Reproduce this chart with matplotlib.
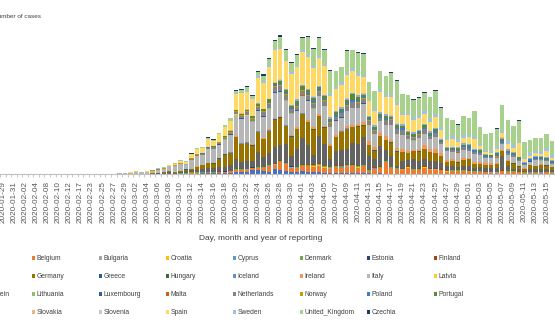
import matplotlib
matplotlib.use("Agg")
import matplotlib.pyplot as plt
from matplotlib.patches import Rectangle
import numpy as np
import pandas as pd

plt.rcParams['font.family'] = ['Liberation Sans', 'DejaVu Sans']

countries = ["Austria", "Belgium", "Bulgaria", "Croatia", "Cyprus", "Denmark", "Estonia", "Finland",
             "France", "Germany", "Greece", "Hungary", "Iceland", "Ireland", "Italy", "Latvia",
             "Liechtenstein", "Lithuania", "Luxembourg", "Malta", "Netherlands", "Norway", "Poland", "Portugal",
             "Romania", "Slovakia", "Slovenia", "Spain", "Sweden", "United_Kingdom", "Czechia"]
colors = ["#4472C4", "#ED7D31", "#A5A5A5", "#FFC000", "#5B9BD5", "#70AD47", "#264478", "#9E480E",
          "#636363", "#997300", "#255E91", "#43682B", "#698ED0", "#F1975A", "#B7B7B7", "#FFCD33",
          "#7CAFDD", "#8CC168", "#335AA1", "#D26012", "#848484", "#CC9A00", "#3C7DC4", "#5A8A39",
          "#8FAADC", "#F4B183", "#C9C9C9", "#FFD966", "#9DC3E6", "#A9D18E", "#203864"]

early_dates = ["2020-01-29", "2020-01-30", "2020-01-31", "2020-02-01", "2020-02-02", "2020-02-03",
               "2020-02-04", "2020-02-06", "2020-02-08", "2020-02-09", "2020-02-10", "2020-02-11",
               "2020-02-12", "2020-02-14", "2020-02-17", "2020-02-21"]
daily_dates = [d.strftime("%Y-%m-%d") for d in pd.date_range("2020-02-23", "2020-05-16")]
dates = early_dates + daily_dates

# cases on the early (sparse) reporting dates
early = {
    "France":         [1, 0, 1, 0, 0, 0, 0, 0, 5, 0, 0, 0, 0, 1, 0, 0],
    "Germany":        [1, 0, 1, 1, 2, 2, 2, 1, 0, 2, 2, 1, 0, 1, 0, 0],
    "Italy":          [0, 0, 2, 0, 0, 0, 0, 1, 0, 0, 0, 0, 0, 0, 0, 17],
    "United_Kingdom": [0, 0, 2, 0, 0, 0, 0, 1, 0, 4, 1, 0, 0, 0, 0, 0],
    "Finland":        [1, 0, 0, 0, 0, 0, 0, 0, 0, 0, 0, 0, 0, 0, 0, 0],
    "Sweden":         [0, 0, 0, 1, 0, 0, 0, 0, 0, 0, 0, 0, 0, 0, 0, 0],
    "Belgium":        [0, 0, 0, 0, 0, 0, 1, 0, 0, 0, 0, 0, 0, 0, 0, 0],
    "Spain":          [0, 0, 0, 1, 0, 0, 0, 0, 0, 1, 0, 0, 0, 0, 0, 0],
}

# daily cases 2020-02-23 .. 2020-05-16 (one row per week)
italy = [58, 76, 99, 93, 78, 250, 238,
         240, 561, 342, 466, 587, 769, 778,
         1247, 1492, 1797, 977, 2313, 2651, 2547,
         3497, 3590, 3233, 3526, 4207, 5400, 6000,
         6557, 5560, 4789, 5249, 5210, 6153, 5959,
         5974, 5217, 4050, 4053, 4782, 4668, 4585,
         4805, 4316, 3599, 3039, 3836, 4204, 3951,
         4694, 4092, 3153, 2972, 2667, 3786, 3493,
         3491, 3047, 2256, 2729, 2900, 2646, 3021,
         2357, 2324, 1739, 2091, 2086, 1872, 1965,
         1900, 1389, 1221, 1075, 1444, 1401, 1327,
         1083, 802, 744, 1402, 888, 992, 789]
spain = [0, 0, 2, 4, 8, 17, 13,
         39, 36, 45, 57, 37, 141, 100,
         173, 400, 622, 582, 869, 1200, 1159,
         2000, 1200, 1806, 2162, 2200, 4000, 4964,
         4400, 4200, 6368, 6500, 8000, 7933, 7516,
         6875, 7846, 7967, 8195, 7947, 7134, 6969,
         7200, 5300, 5478, 5600, 5756, 5500, 4830,
         4167, 3700, 3477, 5092, 4200, 4500, 4499,
         2200, 3968, 3200, 3000, 2500, 2300, 2796,
         2300, 1831, 2144, 1308, 1209, 1781, 2500,
         838, 545, 356, 685, 1122, 1410, 1095,
         3300, 621, 426, 594, 439, 1506, 643]
germany = [0, 0, 0, 0, 10, 26, 10,
           57, 28, 31, 45, 106, 143, 129,
           241, 136, 281, 451, 170, 700, 910,
           1210, 1100, 1985, 3070, 2993, 5500, 4500,
           4600, 3800, 4800, 4337, 5500, 6933, 6824,
           4400, 4790, 4923, 6064, 5600, 6365, 4933,
           4031, 3251, 3500, 4500, 4885, 3990, 4133,
           2821, 2537, 2082, 2486, 2500, 3380, 3609,
           2100, 1775, 1785, 2237, 2352, 2337, 2055,
           1737, 1018, 1144, 1000, 1478, 1639, 945,
           793, 679, 685, 947, 1284, 1209, 1251,
           667, 357, 933, 798, 933, 913, 620]
france = [0, 0, 0, 2, 1, 20, 19,
          43, 30, 61, 13, 81, 92, 276,
          296, 177, 286, 372, 497, 595, 785,
          838, 924, 1210, 1097, 1404, 2400, 1617,
          1847, 1559, 3838, 2446, 2931, 3922, 3809,
          4611, 2599, 4376, 6500, 4861, 2116, 6800,
          5500, 1873, 3500, 3777, 3881, 5200, 5500,
          6900, 3500, 2000, 5000, 2633, 2641, 405,
          1909, 1489, 2489, 1900, 1827, 1653, 1773,
          1537, 1063, 1063, 800, 1000, 1139, 800,
          1010, 1000, 1000, 1000, 3600, 1300, 600,
          550, 400, 700, 650, 700, 600, 550]
united_kingdom = [0, 0, 4, 0, 3, 7, 3,
                  12, 13, 4, 11, 34, 30, 48,
                  43, 67, 48, 61, 83, 134, 117,
                  150, 251, 152, 407, 676, 643, 714,
                  1035, 665, 967, 1427, 1452, 2129, 2885,
                  2546, 2433, 2619, 3009, 4324, 4244, 4450,
                  3735, 5903, 3802, 3634, 5491, 4344, 5195,
                  5288, 4342, 4400, 4603, 4617, 5599, 5525,
                  4800, 4676, 4301, 4451, 4583, 5386, 5900,
                  5200, 5200, 3996, 3700, 4700, 4400, 6500,
                  4339, 4200, 4406, 4600, 6400, 5300, 4900,
                  5400, 3877, 3403, 3242, 3446, 3560, 3451]
belgium = [0, 0, 0, 0, 0, 0, 0,
           0, 1, 6, 7, 10, 27, 59,
           60, 39, 28, 47, 85, 160, 130,
           197, 172, 185, 243, 309, 462, 558,
           586, 342, 526, 668, 1298, 1049, 1850,
           1702, 1063, 876, 1189, 1384, 1422, 1661,
           1260, 1123, 1380, 1209, 1580, 1684, 1351,
           1629, 530, 1200, 1300, 2800, 1329, 1054,
           1045, 1487, 933, 973, 1496, 1032, 1032,
           879, 553, 647, 701, 684, 585, 500,
           455, 361, 310, 323, 639, 482, 500,
           450, 270, 300, 250, 300, 400, 300]
netherlands = [0, 0, 0, 0, 1, 1, 5,
               8, 8, 6, 14, 44, 46, 60,
               77, 56, 57, 121, 111, 190, 155,
               176, 278, 292, 346, 409, 534, 637,
               573, 545, 811, 852, 1019, 1172, 1159,
               1104, 884, 845, 1019, 1083, 1026, 904,
               1224, 952, 777, 969, 1213, 1335, 1316,
               1174, 964, 868, 734, 1061, 1235, 1140,
               1066, 750, 729, 797, 1066, 655, 887,
               400, 171, 400, 386, 514, 475, 445,
               335, 199, 232, 387, 233, 319, 455,
               250, 199, 196, 188, 258, 200, 251]
austria = [0, 0, 2, 0, 1, 0, 0,
           0, 4, 8, 7, 12, 14, 20,
           25, 27, 51, 64, 121, 115, 150,
           204, 160, 314, 286, 350, 452, 455,
           500, 1100, 892, 800, 600, 1300, 1100,
           800, 560, 510, 700, 550, 418, 400,
           300, 250, 300, 330, 280, 250, 240,
           250, 150, 100, 150, 100, 80, 90,
           80, 80, 50, 80, 70, 80, 60,
           60, 40, 50, 60, 40, 40, 40,
           30, 30, 30, 40, 50, 40, 30,
           30, 20, 30, 40, 30, 20, 20]
portugal = [0, 0, 0, 0, 0, 0, 0,
            0, 2, 2, 2, 5, 4, 8,
            9, 9, 11, 18, 19, 32, 56,
            94, 53, 86, 117, 194, 143, 235,
            260, 320, 460, 302, 633, 549, 724,
            792, 446, 1035, 808, 783, 852, 638,
            754, 452, 712, 699, 815, 1516, 1033,
            598, 349, 514, 643, 750, 181, 663,
            521, 516, 629, 371, 603, 444, 595,
            163, 92, 183, 295, 345, 553, 181,
            394, 242, 178, 533, 553, 333, 158,
            340, 200, 160, 230, 300, 150, 200]
sweden = [0, 0, 0, 1, 1, 5, 0,
          5, 7, 7, 20, 30, 48, 76,
          67, 45, 107, 145, 162, 155, 136,
          131, 83, 112, 102, 146, 168, 200,
          154, 144, 294, 337, 393, 281, 322,
          250, 328, 384, 509, 554, 425, 415,
          396, 400, 500, 700, 600, 700, 500,
          466, 332, 465, 482, 610, 606, 676,
          563, 400, 700, 600, 700, 800, 600,
          400, 300, 600, 700, 800, 450, 400,
          300, 300, 600, 500, 600, 600, 600,
          300, 400, 700, 600, 600, 800, 600]
ireland = [0, 0, 0, 0, 0, 0, 1,
           0, 0, 0, 1, 2, 1, 7,
           3, 2, 3, 19, 9, 27, 20,
           40, 40, 74, 77, 191, 126, 102,
           121, 219, 204, 235, 255, 302, 294,
           200, 295, 325, 214, 402, 424, 331,
           390, 370, 365, 345, 500, 480, 560,
           727, 992, 832, 657, 1068, 548, 709,
           778, 493, 388, 631, 936, 577, 1000,
           700, 500, 400, 350, 400, 200, 376,
           330, 331, 392, 300, 200, 150, 200,
           200, 200, 159, 100, 300, 100, 100]
poland = [0, 0, 0, 0, 0, 0, 0,
          0, 0, 0, 1, 0, 4, 1,
          5, 6, 6, 9, 18, 25, 36,
          21, 52, 27, 81, 51, 70, 98,
          115, 152, 115, 152, 170, 168, 249,
          224, 193, 256, 243, 392, 437, 475,
          311, 416, 325, 369, 370, 380, 318,
          268, 401, 380, 336, 300, 360, 363,
          545, 263, 313, 380, 376, 270, 355,
          240, 300, 300, 260, 280, 300, 400,
          330, 300, 307, 356, 500, 300, 340,
          340, 200, 300, 400, 300, 380, 200]
romania = [0, 0, 0, 1, 0, 0, 0,
           0, 0, 0, 3, 0, 1, 2,
           2, 2, 8, 10, 15, 18, 20,
           32, 40, 26, 60, 101, 46, 53,
           75, 125, 195, 138, 94, 123, 263,
           271, 192, 308, 360, 262, 302, 190,
           210, 401, 349, 261, 405, 314, 411,
           312, 327, 394, 420, 332, 421, 302,
           337, 317, 270, 300, 335, 329, 300,
           220, 300, 200, 230, 350, 200, 300,
           250, 150, 200, 250, 270, 300, 250,
           200, 190, 200, 185, 220, 170, 180]
czechia = [0, 0, 0, 0, 0, 0, 0,
           0, 3, 0, 2, 2, 4, 7,
           7, 9, 7, 22, 38, 40, 38,
           79, 136, 82, 135, 86, 162, 133,
           205, 236, 304, 343, 400, 260, 360,
           300, 265, 252, 290, 349, 329, 250,
           190, 171, 239, 146, 214, 217, 181,
           123, 97, 145, 133, 99, 154, 121,
           88, 32, 77, 114, 112, 116, 71,
           58, 32, 44, 64, 56, 55, 65,
           30, 54, 71, 70, 60, 80, 50,
           35, 40, 50, 50, 50, 60, 30]
norway = [0, 0, 0, 1, 0, 0, 6,
          4, 4, 13, 12, 25, 30, 38,
          56, 134, 110, 62, 224, 121, 110,
          120, 137, 200, 227, 215, 160, 127,
          267, 155, 186, 246, 244, 318, 358,
          295, 231, 200, 214, 292, 213, 170,
          146, 111, 150, 150, 200, 112, 76,
          98, 82, 117, 75, 120, 47, 89,
          90, 67, 51, 72, 72, 68, 44,
          30, 34, 61, 78, 41, 33, 65,
          25, 34, 14, 44, 38, 26, 20,
          12, 14, 16, 20, 13, 12, 10]
denmark = [0, 0, 0, 0, 1, 0, 0,
           0, 0, 0, 4, 6, 6, 12,
           8, 30, 50, 150, 257, 156, 123,
           127, 73, 28, 34, 32, 141, 45,
           25, 81, 126, 136, 132, 108, 207,
           203, 130, 200, 220, 241, 371, 300,
           228, 192, 223, 280, 300, 233, 207,
           221, 166, 178, 144, 184, 165, 231,
           140, 150, 212, 175, 220, 150, 130,
           110, 100, 170, 130, 150, 120, 140,
           160, 70, 100, 120, 130, 100, 100,
           70, 60, 100, 110, 80, 70, 70]
luxembourg = [0, 0, 0, 0, 0, 0, 1,
              0, 0, 0, 0, 0, 1, 1,
              1, 0, 2, 2, 7, 12, 7,
              20, 30, 60, 40, 70, 90, 140,
              130, 120, 170, 180, 140, 200, 160,
              120, 100, 140, 120, 80, 90, 60,
              60, 50, 90, 80, 60, 50, 40,
              40, 25, 30, 20, 30, 30, 35,
              20, 10, 10, 10, 10, 10, 10,
              8, 5, 10, 6, 8, 5, 7,
              6, 5, 4, 8, 5, 7, 5,
              4, 3, 5, 6, 3, 4, 5]
finland = [0, 0, 1, 0, 0, 1, 0,
           0, 0, 1, 0, 1, 2, 4,
           3, 5, 10, 15, 59, 46, 40,
           25, 44, 50, 50, 40, 74, 100,
           84, 71, 89, 88, 76, 138, 120,
           70, 100, 110, 130, 130, 200, 150,
           120, 180, 140, 300, 190, 200, 120,
           120, 150, 200, 200, 150, 130, 100,
           80, 120, 100, 140, 100, 200, 100,
           100, 80, 120, 100, 100, 80, 60,
           50, 60, 50, 40, 60, 70, 50,
           40, 40, 50, 60, 40, 50, 40]
greece = [0, 0, 0, 1, 2, 0, 1,
          3, 0, 0, 0, 4, 17, 0,
          2, 20, 7, 27, 9, 18, 27,
          40, 30, 75, 50, 40, 60, 80,
          90, 70, 100, 80, 80, 70, 70,
          60, 90, 80, 60, 60, 60, 60,
          40, 40, 60, 40, 40, 40, 100,
          20, 15, 10, 20, 20, 30, 60,
          15, 20, 10, 10, 20, 10, 15,
          10, 15, 20, 10, 15, 10, 10,
          20, 10, 15, 10, 15, 10, 12,
          10, 8, 10, 12, 10, 8, 10]
hungary = [0, 0, 0, 0, 0, 0, 0,
           0, 0, 0, 0, 2, 0, 2,
           3, 2, 3, 4, 3, 3, 6,
           10, 10, 30, 10, 20, 30, 50,
           20, 70, 40, 30, 40, 40, 40,
           50, 40, 70, 60, 60, 60, 70,
           60, 50, 70, 50, 70, 60, 100,
           80, 60, 40, 100, 70, 100, 80,
           70, 40, 60, 70, 50, 60, 70,
           40, 50, 60, 40, 60, 50, 40,
           30, 40, 30, 30, 35, 30, 40,
           30, 25, 30, 30, 35, 30, 25]
slovenia = [0, 0, 0, 0, 0, 0, 0,
            0, 0, 0, 0, 1, 5, 2,
            4, 9, 0, 20, 41, 40, 60,
            40, 30, 30, 25, 50, 70, 40,
            50, 30, 40, 40, 50, 60, 60,
            40, 30, 50, 30, 40, 40, 30,
            30, 20, 40, 30, 20, 30, 30,
            20, 15, 20, 20, 15, 20, 15,
            10, 12, 10, 15, 10, 10, 8,
            8, 10, 6, 8, 5, 6, 5,
            5, 4, 6, 5, 4, 3, 5,
            4, 3, 4, 5, 3, 4, 3]
croatia = [0, 0, 0, 1, 1, 1, 0,
           0, 0, 0, 0, 0, 2, 0,
           1, 1, 0, 2, 3, 5, 20,
           10, 10, 20, 30, 40, 40, 60,
           40, 50, 50, 60, 60, 40, 80,
           70, 50, 40, 50, 60, 50, 60,
           40, 30, 30, 40, 40, 30, 50,
           30, 25, 20, 30, 25, 20, 20,
           20, 15, 20, 15, 10, 15, 10,
           10, 8, 10, 8, 10, 8, 10,
           8, 6, 8, 5, 6, 5, 6,
           5, 4, 5, 6, 4, 5, 4]
bulgaria = [0, 0, 0, 0, 0, 0, 0,
            0, 0, 0, 0, 0, 0, 0,
            0, 4, 0, 3, 0, 16, 8,
            10, 20, 10, 20, 30, 20, 30,
            40, 20, 30, 40, 20, 30, 30,
            40, 30, 30, 40, 20, 30, 30,
            30, 20, 30, 40, 20, 30, 30,
            30, 40, 50, 30, 40, 40, 50,
            40, 50, 30, 40, 50, 60, 40,
            40, 30, 40, 50, 60, 40, 50,
            30, 40, 50, 40, 30, 40, 50,
            40, 30, 40, 50, 40, 30, 40]
iceland = [0, 0, 0, 0, 0, 0, 0,
           0, 1, 0, 5, 10, 9, 7,
           10, 20, 15, 20, 20, 30, 40,
           50, 30, 60, 60, 80, 80, 100,
           60, 80, 100, 60, 90, 70, 100,
           80, 60, 60, 50, 50, 40, 50,
           30, 20, 30, 30, 25, 25, 10,
           12, 8, 10, 6, 5, 8, 6,
           4, 3, 3, 2, 3, 2, 1,
           1, 2, 1, 0, 1, 1, 0,
           0, 1, 0, 0, 1, 0, 0,
           0, 0, 1, 0, 0, 1, 0]
slovakia = [0, 0, 0, 0, 0, 0, 0,
            0, 0, 0, 0, 0, 1, 0,
            2, 0, 4, 1, 11, 11, 10,
            20, 10, 20, 20, 20, 20, 30,
            40, 20, 30, 30, 20, 40, 30,
            30, 20, 40, 50, 50, 60, 50,
            50, 30, 60, 40, 40, 50, 50,
            30, 35, 30, 25, 30, 30, 35,
            20, 15, 20, 15, 10, 15, 10,
            10, 8, 10, 6, 10, 8, 6,
            5, 6, 4, 5, 6, 4, 5,
            4, 3, 5, 4, 3, 4, 3]
estonia = [0, 0, 0, 0, 1, 0, 0,
           0, 0, 0, 1, 0, 0, 1,
           7, 0, 3, 0, 11, 17, 27,
           20, 80, 20, 30, 30, 50, 30,
           20, 30, 50, 40, 30, 40, 40,
           30, 30, 60, 50, 70, 50, 40,
           40, 30, 30, 40, 50, 60, 50,
           30, 20, 30, 30, 20, 30, 30,
           15, 10, 20, 12, 10, 8, 10,
           8, 10, 6, 8, 5, 7, 6,
           5, 6, 4, 5, 6, 4, 5,
           4, 5, 3, 4, 5, 3, 4]
lithuania = [0, 0, 0, 0, 0, 1, 0,
             0, 0, 0, 0, 0, 0, 0,
             0, 0, 1, 0, 1, 3, 1,
             5, 10, 10, 20, 10, 20, 30,
             20, 30, 40, 50, 40, 40, 50,
             60, 40, 60, 70, 50, 50, 40,
             40, 30, 40, 40, 40, 50, 40,
             40, 30, 20, 30, 20, 20, 30,
             20, 25, 15, 20, 10, 15, 20,
             10, 15, 10, 12, 10, 15, 10,
             10, 12, 8, 10, 15, 10, 12,
             8, 10, 12, 8, 10, 9, 10]
latvia = [0, 0, 0, 0, 0, 0, 0,
          0, 1, 0, 0, 0, 0, 0,
          1, 0, 2, 4, 4, 6, 9,
          5, 10, 10, 20, 10, 20, 30,
          20, 20, 30, 20, 20, 30, 20,
          20, 20, 30, 20, 20, 20, 20,
          20, 15, 20, 15, 20, 15, 10,
          10, 12, 8, 10, 15, 10, 12,
          8, 10, 6, 8, 5, 6, 5,
          5, 6, 4, 5, 6, 4, 5,
          4, 5, 3, 4, 5, 3, 4,
          3, 4, 3, 4, 3, 4, 3]
cyprus = [0, 0, 0, 0, 0, 0, 0,
          0, 0, 0, 0, 0, 0, 0,
          0, 2, 0, 0, 0, 6, 0,
          10, 10, 20, 10, 20, 30, 20,
          20, 30, 20, 30, 20, 30, 20,
          20, 20, 30, 30, 20, 30, 20,
          20, 15, 20, 15, 20, 15, 10,
          10, 8, 10, 8, 10, 8, 6,
          5, 6, 4, 5, 6, 4, 5,
          4, 5, 3, 4, 5, 3, 4,
          3, 4, 3, 4, 3, 4, 3,
          2, 3, 2, 3, 2, 3, 2]
malta = [0, 0, 0, 0, 0, 0, 0,
         0, 0, 0, 0, 0, 0, 0,
         0, 0, 0, 0, 0, 3, 0,
         5, 10, 5, 10, 10, 20, 10,
         20, 10, 20, 20, 20, 20, 10,
         10, 10, 10, 20, 10, 10, 10,
         10, 8, 10, 8, 10, 8, 6,
         6, 5, 6, 5, 6, 5, 6,
         5, 4, 5, 4, 5, 4, 5,
         4, 3, 4, 3, 4, 3, 4,
         3, 4, 3, 4, 3, 4, 3,
         2, 3, 2, 3, 2, 3, 2]
liechtenstein = [0, 0, 0, 0, 0, 0, 0,
                 0, 0, 0, 0, 0, 0, 0,
                 0, 0, 0, 0, 0, 0, 0,
                 2, 3, 4, 5, 4, 4, 5,
                 5, 5, 5, 5, 5, 5, 5,
                 4, 3, 4, 3, 4, 3, 4,
                 2, 1, 2, 1, 2, 1, 2,
                 1, 0, 1, 0, 1, 0, 1,
                 0, 1, 0, 1, 0, 1, 0,
                 0, 0, 1, 0, 0, 1, 0,
                 0, 0, 0, 1, 0, 0, 0,
                 0, 1, 0, 0, 0, 0, 1]

daily = {"Austria": austria, "Belgium": belgium, "Bulgaria": bulgaria, "Croatia": croatia,
         "Cyprus": cyprus, "Denmark": denmark, "Estonia": estonia, "Finland": finland,
         "France": france, "Germany": germany, "Greece": greece, "Hungary": hungary,
         "Iceland": iceland, "Ireland": ireland, "Italy": italy, "Latvia": latvia,
         "Liechtenstein": liechtenstein, "Lithuania": lithuania, "Luxembourg": luxembourg,
         "Malta": malta, "Netherlands": netherlands, "Norway": norway, "Poland": poland,
         "Portugal": portugal, "Romania": romania, "Slovakia": slovakia, "Slovenia": slovenia,
         "Spain": spain, "Sweden": sweden, "United_Kingdom": united_kingdom, "Czechia": czechia}

# ---------------------------------------------------------------- figure
W, H = 555, 327
fig = plt.figure(figsize=(W / 100, H / 100), dpi=100)
base_px, top_px = 174, 20
ax = fig.add_axes([0, (H - base_px) / H, 1, (base_px - top_px) / H])

n = len(dates)
x = np.arange(n)
bottom = np.zeros(n)
for name, col in zip(countries, colors):
    vals = np.array(early.get(name, [0] * len(early_dates)) + daily[name], dtype=float)
    ax.bar(x, vals, bottom=bottom, width=0.8, color=col, linewidth=0, zorder=2)
    bottom += vals

cat_px, first_px = 5.635, 0.7
ax.set_xlim(-first_px / cat_px, (W - first_px) / cat_px)
ax.set_ylim(0, (base_px - top_px) * 250)

for s in ["top", "left", "right"]:
    ax.spines[s].set_visible(False)
ax.spines["bottom"].set_color("#BFBFBF")
ax.spines["bottom"].set_linewidth(0.8)
ax.spines["bottom"].set_zorder(3)
ax.set_yticks([])

ax.set_xticks(x[::2])
ax.set_xticklabels(dates[::2], rotation=90, fontsize=5.9, color="#595959")
ax.tick_params(axis="x", which="major", length=0, pad=5)
ax.set_xticks(np.arange(-0.5, n, 1), minor=True)
ax.tick_params(axis="x", which="minor", length=2.2, width=0.6, color="#BFBFBF")

# overlay in pixel coordinates for titles / legend
ov = fig.add_axes([0, 0, 1, 1])
ov.set_xlim(0, W)
ov.set_ylim(H, 0)
ov.axis("off")
ov.patch.set_alpha(0)

ov.text(41, 17, "Number of cases", ha="right", va="center", fontsize=4.6, color="#404040")
ov.text(261, 238, "Day, month and year of reporting", ha="center", va="center",
        fontsize=6.0, color="#404040")

row_y = [258, 276, 294, 312]
col_x0, col_dx = 33.3 - 67, 67
for k, (name, col) in enumerate(zip(countries, colors)):
    r, c = divmod(k, 8)
    cx = col_x0 + c * col_dx
    cy = row_y[r]
    ov.add_patch(Rectangle((cx - 1.6, cy - 1.6), 3.2, 3.2, color=col, lw=0))
    ov.text(cx + 3.2, cy, name, ha="left", va="center", fontsize=4.9, color="#404040")

fig.savefig("out.png", dpi=100)
